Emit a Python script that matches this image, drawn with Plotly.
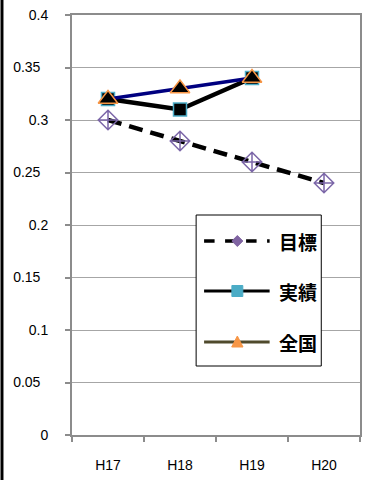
import plotly.graph_objects as go

# Fiscal years and rates
years = ["H17", "H18", "H19", "H20"]
target = [0.30, 0.28, 0.26, 0.24]          # 目標
actual = [0.32, 0.31, 0.34, None]          # 実績
national = [0.32, 0.33, 0.34, None]        # 全国
y_ticks = [0, 0.05, 0.1, 0.15, 0.2, 0.25, 0.3, 0.35, 0.4]
# two-decimal labels carry trailing no-break spaces, so they sit further left
y_tick_text = ["0", "0.05\u00a0\u00a0", "0.1", "0.15\u00a0\u00a0", "0.2",
               "0.25\u00a0\u00a0", "0.3", "0.35\u00a0\u00a0", "0.4"]

W, H = 365, 480
PL, PR, PT, PB = 72, 362, 15, 435   # plot area in pixels


def px(x):
    return (x - PL) / (PR - PL)


def py(y):
    return (PB - y) / (PB - PT)


fig = go.Figure()

fig.add_trace(go.Scatter(
    x=years, y=target, mode="lines+markers", name="目標", showlegend=False,
    line=dict(color="black", width=4.5, dash="14px,8px"),
    marker=dict(symbol="diamond-cross-open", size=15, color="#7b66a8",
                line=dict(width=1.5)),
))
fig.add_trace(go.Scatter(
    x=years, y=actual, mode="lines+markers", name="実績", showlegend=False,
    line=dict(color="black", width=4.5),
    marker=dict(symbol="square", size=13, color="black",
                line=dict(color="#4bacc6", width=1.5)),
))
fig.add_trace(go.Scatter(
    x=years, y=national, mode="lines+markers", name="全国", showlegend=False,
    line=dict(color="#000080", width=3.5),
    marker=dict(symbol="triangle-up", size=17, color="black",
                line=dict(color="#f79646", width=1.5)),
))

shapes = []
annotations = []

# dark strip along the left edge
shapes.append(dict(type="rect", xref="paper", yref="paper",
                   x0=px(0), x1=px(3), y0=py(H), y1=py(0),
                   fillcolor="black", line=dict(width=0), layer="above"))

# hand-built legend box
shapes.append(dict(type="rect", xref="paper", yref="paper",
                   x0=px(197), x1=px(323), y0=py(366), y1=py(215),
                   fillcolor="white", line=dict(color="black", width=1),
                   layer="above"))

legend_rows = [
    ("目標", 241, dict(color="black", width=3.5, dash="dash"), "diamond", "#8064a2"),
    ("実績", 291, dict(color="black", width=3), "square", "#4bacc6"),
    ("全国", 342, dict(color="#4f4a2c", width=3), "triangle", "#f79646"),
]
for label, yc, line, sym, col in legend_rows:
    shapes.append(dict(type="line", xref="paper", yref="paper",
                       x0=px(205), x1=px(271), y0=py(yc), y1=py(yc),
                       line=line, layer="above"))
    cx = 238.5
    if sym == "diamond":
        r = 5.5
        path = (f"M{px(cx)},{py(yc - r)} L{px(cx + r)},{py(yc)} "
                f"L{px(cx)},{py(yc + r)} L{px(cx - r)},{py(yc)} Z")
    elif sym == "square":
        r = 5.5
        path = (f"M{px(cx - r)},{py(yc - r)} L{px(cx + r)},{py(yc - r)} "
                f"L{px(cx + r)},{py(yc + r)} L{px(cx - r)},{py(yc + r)} Z")
    else:
        r = 5.7
        path = (f"M{px(cx)},{py(yc - 6)} L{px(cx + r)},{py(yc + 5)} "
                f"L{px(cx - r)},{py(yc + 5)} Z")
    shapes.append(dict(type="path", xref="paper", yref="paper", path=path,
                       fillcolor=col, line=dict(color=col, width=1),
                       layer="above"))
    annotations.append(dict(text=f"<b>{label}</b>", xref="paper", yref="paper",
                            x=px(278), y=py(yc), xanchor="left", yanchor="middle",
                            showarrow=False,
                            font=dict(family="Noto Sans CJK JP", size=19,
                                      color="black")))

fig.update_layout(
    width=W, height=H,
    margin=dict(l=PL, r=W - PR, t=PT, b=H - PB),
    paper_bgcolor="white", plot_bgcolor="white",
    font=dict(family="Liberation Sans, Arial", size=14, color="black"),
    shapes=shapes, annotations=annotations,
    showlegend=False,
)
fig.update_xaxes(
    type="category", range=[-0.5, 3.5], categoryorder="array", categoryarray=years,
    tickson="boundaries", ticks="outside", ticklen=5, tickcolor="#8c8c8c",
    tickwidth=2, showgrid=False, showline=True, linecolor="#8c8c8c",
    linewidth=2, mirror=True, ticklabelstandoff=16,
    tickfont=dict(size=14, color="black"),
)
fig.update_yaxes(
    range=[0, 0.4], tickvals=y_ticks, ticktext=y_tick_text, ticks="outside",
    ticklen=5, tickcolor="#8c8c8c", tickwidth=2, showgrid=True,
    gridcolor="#a6a6a6", gridwidth=1, zeroline=False, showline=True,
    linecolor="#8c8c8c", linewidth=2, mirror=True, ticklabelstandoff=14,
    tickfont=dict(size=14, color="black"),
)

fig.write_html("out.html")
